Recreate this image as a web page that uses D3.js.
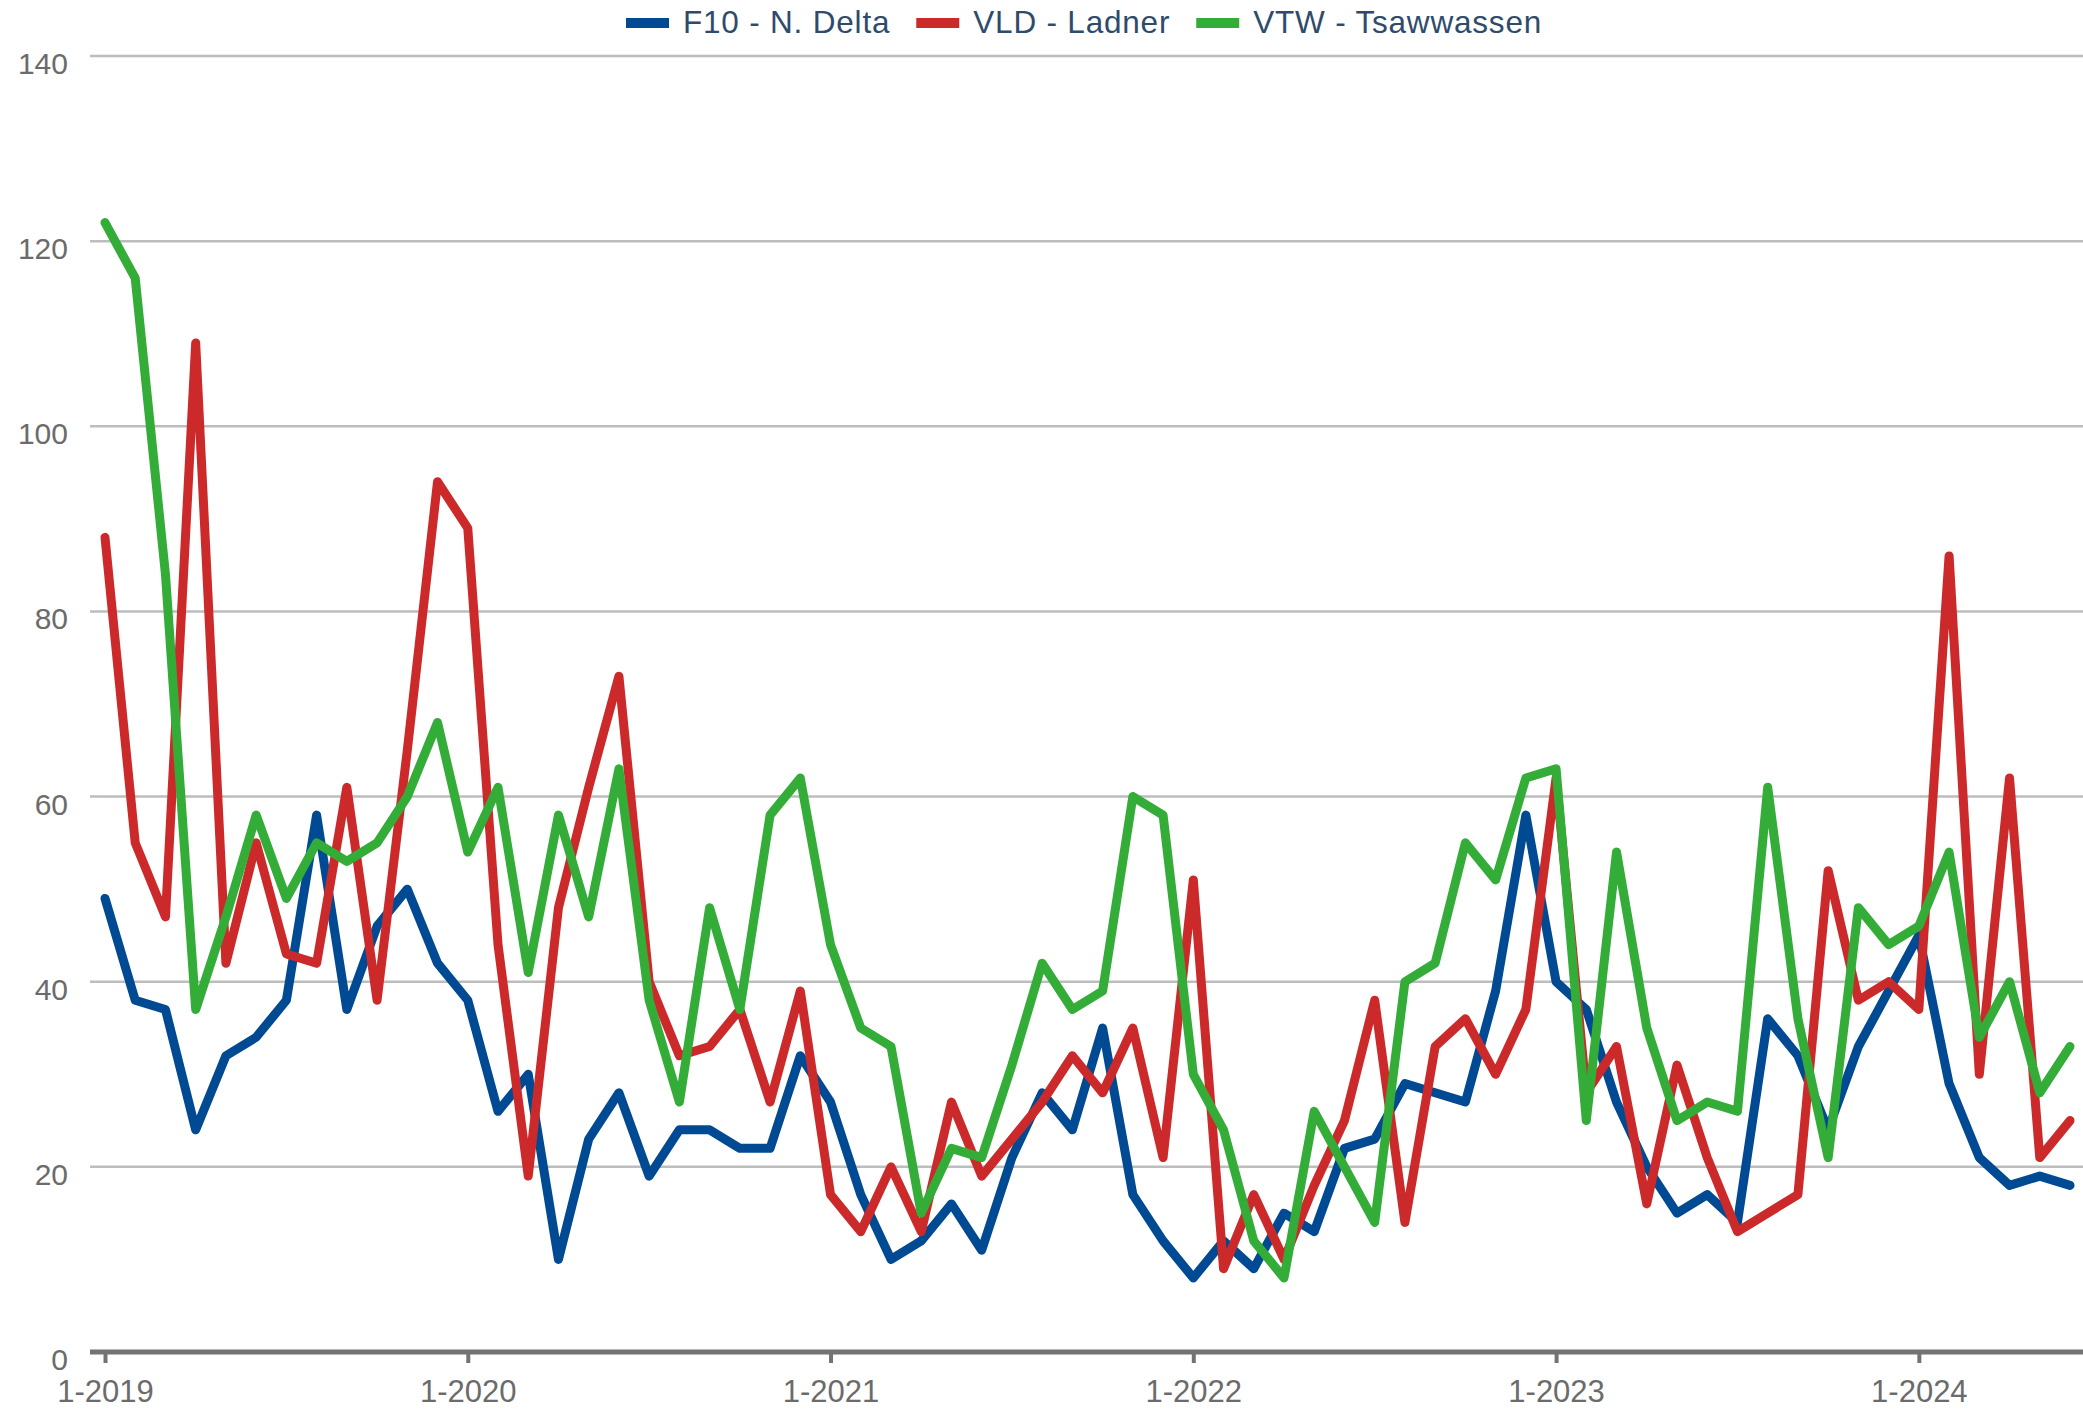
<!DOCTYPE html>
<html>
<head>
<meta charset="utf-8">
<script src="https://cdn.jsdelivr.net/npm/d3@7"></script>
<style>
  html, body { margin: 0; padding: 0; background: #fff; }
  svg { display: block; font-family: "Liberation Sans", Arial, sans-serif; }
</style>
</head>
<body>
<svg id="chart" width="2083" height="1409"></svg>
<script>
// Monthly counts, January 2019 through June 2024
const months = d3.range(66);
const seriesNames = ["F10 - N. Delta", "VLD - Ladner", "VTW - Tsawwassen"];
const seriesColors = ["#004a93", "#cc2a2a", "#33ad38"];

const f10Delta = [49, 38, 37, 24, 32, 34, 38, 58, 37, 46, 50, 42,
                  38, 26, 30, 10, 23, 28, 19, 24, 24, 22, 22, 32,
                  27, 17, 10, 12, 16, 11, 21, 28, 24, 35, 17, 12,
                  8, 12, 9, 15, 13, 22, 23, 29, 28, 27, 39, 58,
                  40, 37, 27, 20, 15, 17, 14, 36, 32, 24, 33, 39,
                  45, 29, 21, 18, 19, 18];
const vldLadner = [88, 55, 47, 109, 42, 55, 43, 42, 61, 38, 65, 94,
                   89, 44, 19, 48, 61, 73, 40, 32, 33, 37, 27, 39,
                   17, 13, 20, 13, 27, 19, 23, 27, 32, 28, 35, 21,
                   51, 9, 17, 10, 18, 25, 38, 14, 33, 36, 30, 37,
                   62, 28, 33, 16, 31, 21, 13, 15, 17, 52, 38, 40,
                   37, 86, 30, 62, 21, 25];
const vtwTsawwassen = [122, 116, 84, 37, 47, 58, 49, 55, 53, 55, 60, 68,
                       54, 61, 41, 58, 47, 63, 38, 27, 48, 37, 58, 62,
                       44, 35, 33, 15, 22, 21, 31, 42, 37, 39, 60, 58,
                       30, 24, 12, 8, 26, 20, 14, 40, 42, 55, 51, 62,
                       63, 25, 54, 35, 25, 27, 26, 61, 36, 21, 48, 44,
                       46, 54, 34, 40, 28, 33];

const yTicks = [0, 20, 40, 60, 80, 100, 120, 140];
const xTickMonths = [0, 12, 24, 36, 48, 60];
const xTickLabels = ["1-2019", "1-2020", "1-2021", "1-2022", "1-2023", "1-2024"];

const allSeries = [f10Delta, vldLadner, vtwTsawwassen];

const svg = d3.select("#chart");
const W = 2083;
const plotLeft = 90, plotRight = W;

const x = d3.scaleLinear().domain([0, 65]).range([105, 2070]);
const y = d3.scaleLinear().domain([0, 140]).range([1352, 56]);

// Horizontal gridlines
svg.append("g")
  .selectAll("line")
  .data(yTicks.filter(d => d > 0))
  .join("line")
  .attr("x1", plotLeft).attr("x2", plotRight)
  .attr("y1", d => y(d)).attr("y2", d => y(d))
  .attr("stroke", "#bdbdbd").attr("stroke-width", 2.5);

// Y-axis labels
svg.append("g")
  .selectAll("text")
  .data(yTicks)
  .join("text")
  .attr("x", 68)
  .attr("y", d => y(d) + 18)
  .attr("text-anchor", "end")
  .attr("font-size", 30)
  .attr("fill", "#6b6b6b")
  .text(d => d);

// X axis: baseline with ticks and month-year labels
const xAxis = d3.axisBottom(x)
  .tickValues(xTickMonths)
  .tickSize(11)
  .tickPadding(17)
  .tickFormat((d, i) => xTickLabels[i]);

const gx = svg.append("g")
  .attr("transform", `translate(0,${y(0)})`)
  .call(xAxis);
gx.select(".domain").remove();
gx.selectAll(".tick line").attr("stroke", "#737373").attr("stroke-width", 4);
gx.selectAll(".tick text")
  .attr("font-size", 31)
  .attr("fill", "#6b6b6b")
  .attr("font-family", "Liberation Sans, Arial, sans-serif");

svg.append("line")
  .attr("x1", plotLeft).attr("x2", plotRight)
  .attr("y1", y(0)).attr("y2", y(0))
  .attr("stroke", "#737373").attr("stroke-width", 5);

// Series lines
const line = d3.line()
  .x((d, i) => x(months[i]))
  .y(d => y(d));

svg.append("g")
  .selectAll("path")
  .data(allSeries)
  .join("path")
  .attr("d", d => line(d))
  .attr("fill", "none")
  .attr("stroke", (d, i) => seriesColors[i])
  .attr("stroke-width", 9)
  .attr("stroke-linejoin", "round")
  .attr("stroke-linecap", "round");

// Legend across the top
const legend = svg.append("g");
let lx = 626;
seriesNames.forEach((name, i) => {
  legend.append("rect")
    .attr("x", lx).attr("y", 18)
    .attr("width", 43).attr("height", 10)
    .attr("fill", seriesColors[i]);
  const t = legend.append("text")
    .attr("x", lx + 57).attr("y", 33)
    .attr("font-size", 31.5)
    .attr("letter-spacing", 0.8)
    .attr("fill", "#2e4b6c")
    .text(name);
  lx += 57 + t.node().getComputedTextLength() + 26;
});
</script>
</body>
</html>
